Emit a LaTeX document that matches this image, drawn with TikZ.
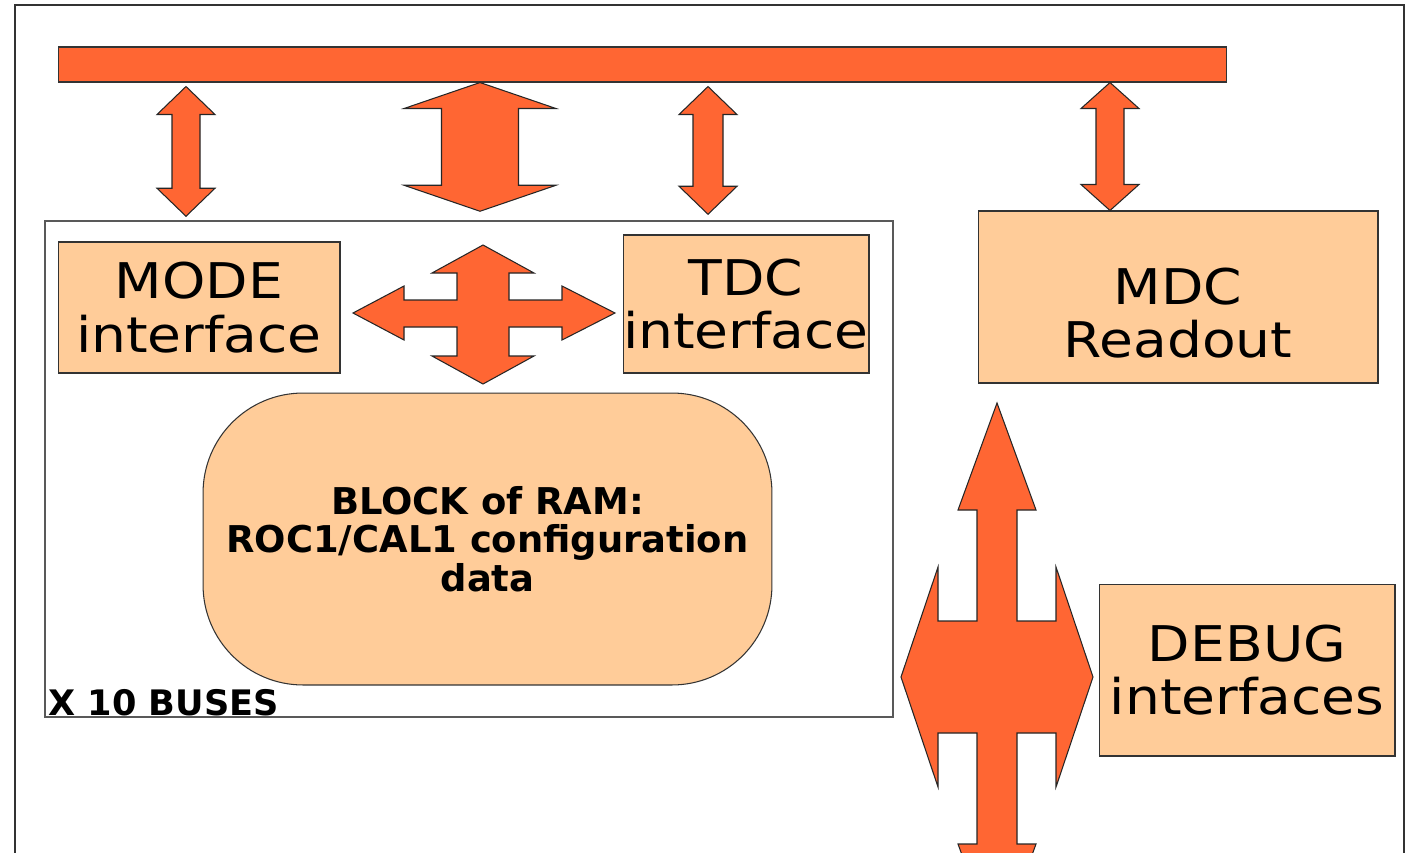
\documentclass[tikz,border=0pt]{standalone}
\usepackage{fontspec}
\setmainfont{DejaVu Sans}
\newfontfamily\boxfont[FakeStretch=1.12]{DejaVu Sans}
\usetikzlibrary{positioning}
\usetikzlibrary{calc}

\definecolor{busorange}{RGB}{255,102,51}
\definecolor{boxpeach}{RGB}{255,204,153}

\tikzset{
  blockarrow/.style={fill=busorange, draw=black!85, line width=0.6pt, line join=miter},
  unitbox/.style={draw=black!80, fill=boxpeach, line width=0.6pt, align=center, inner sep=0pt},
  bigtext/.style={font=\boxfont\fontsize{28}{30.5}\selectfont},
}

% vertical double block arrow: top, bottom, shaft half width, head half width, head length
\newcommand{\busarrow}[5]{%
\path (#1) coordinate (tp) (#2) coordinate (bt);
\draw[blockarrow] (tp) -- ($(tp)+(#4,#5)$) -- ($(tp)+(#3,#5)$) -- ($(bt)+(#3,-#5)$) -- ($(bt)+(#4,-#5)$)
 -- (bt) -- ($(bt)+(-#4,-#5)$) -- ($(bt)+(-#3,-#5)$) -- ($(tp)+(-#3,#5)$) -- ($(tp)+(-#4,#5)$) -- cycle;}

\begin{document}
\begin{tikzpicture}[x=0.02cm, y=-0.02cm]

\useasboundingbox (0,0) rectangle (1408,852);
\clip (0,0) rectangle (1408,852);

%outer frame%
\draw[black!80, line width=0.9pt] (15,880) -- (15,5) -- (1404,5) -- (1404,880);

%bus bar%
\node[draw=black!80, fill=busorange, line width=0.6pt, minimum width=23.38cm, minimum height=0.7cm, inner sep=0pt] (bus) at (642.5,64.5) {};

%one of the ten bus units%
\node[draw=black!65, line width=0.9pt, minimum width=16.96cm, minimum height=9.92cm, inner sep=0pt] (group) at (469,469) {};
\node[anchor=base west, inner sep=0pt, font=\bfseries\fontsize{20}{24}\selectfont] (count) at (48,715) {X 10 BUSES};

\node[unitbox, bigtext, minimum width=5.64cm, minimum height=2.62cm] (mode) at (199,307.5) {MODE\\interface};
\node[unitbox, bigtext, minimum width=4.92cm, minimum height=2.76cm] (tdc) at (746,304) {TDC\\interface};
\node[unitbox, rounded corners=2cm, minimum width=11.38cm, minimum height=5.84cm, font=\bfseries\fontsize{21}{22}\selectfont] (ram) at (487.5,539) {BLOCK of RAM:\\ROC1/CAL1 configuration\\data};

%readout side%
\node[unitbox, minimum width=8cm, minimum height=3.44cm] (mdc) at (1178,297) {};
\node[bigtext, align=center, inner sep=0pt] (mdctext) at ($(mdc.center)+(0,16)$) {MDC\\Readout};
\node[unitbox, bigtext, minimum width=5.92cm, minimum height=3.44cm] (debug) at (1247,670) {DEBUG\\interfaces};

%arrows from the bus%
\busarrow{$(bus.south -| 186,0)+(0,4)$}{$(group.north -| 186,0)+(0,-4)$}{14}{29}{28}
\busarrow{bus.south -| 480,0}{$(group.north -| 480,0)+(0,-9)$}{38.5}{76}{26}
\busarrow{$(bus.south -| 708,0)+(0,4)$}{$(group.north -| 708,0)+(0,-6)$}{15}{29}{28}
\busarrow{bus.south -| 1110,0}{mdc.north -| 1110,0}{14}{29}{26}

%four way arrow inside the unit%
\coordinate (hub) at (483,313);
\begin{scope}[shift={(hub)}]
\draw[blockarrow] (0,-68) -- (51,-40) -- (26,-40) -- (26,-13) -- (79,-13) -- (79,-27) -- (132,0)
 -- (79,27) -- (79,14) -- (26,14) -- (26,43) -- (51,43) -- (0,71) -- (-51,43) -- (-26,43)
 -- (-26,14) -- (-79,14) -- (-79,27) -- (-130,0) -- (-79,-27) -- (-79,-13) -- (-26,-13)
 -- (-26,-40) -- (-51,-40) -- cycle;
\end{scope}

%debug arrow%
\coordinate (dbg) at (997,677);
\begin{scope}[shift={(dbg)}]
\draw[blockarrow] (0,-274) -- (39,-167) -- (20,-167) -- (20,-56) -- (59,-56) -- (59,-110) -- (96,0)
 -- (59,110) -- (59,56) -- (20,56) -- (20,167) -- (39,167) -- (0,274) -- (-39,167) -- (-20,167)
 -- (-20,56) -- (-59,56) -- (-59,110) -- (-96,0) -- (-59,-110) -- (-59,-56) -- (-20,-56)
 -- (-20,-167) -- (-39,-167) -- cycle;
\end{scope}

\end{tikzpicture}
\end{document}
